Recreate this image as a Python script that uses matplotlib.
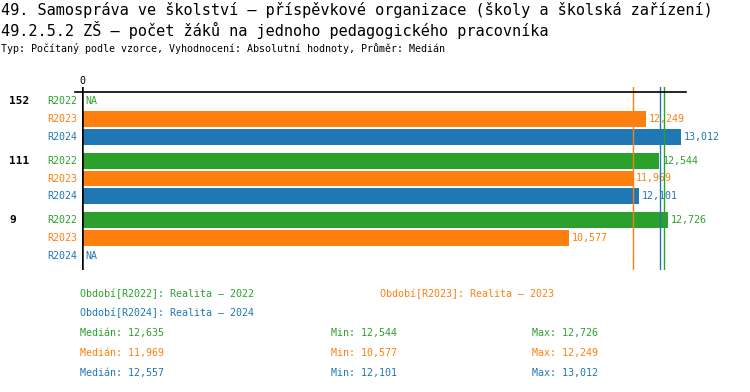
import matplotlib
matplotlib.use("Agg")
import matplotlib.pyplot as plt

plt.rcParams['font.family'] = ['DejaVu Sans Mono']

groups = ["152", "111", "9"]
periods = ["R2022", "R2023", "R2024"]
colors = {"R2022": "#2ca02c", "R2023": "#ff7f0e", "R2024": "#1f77b4"}
values = {
    "R2022": [None, 12.544, 12.726],
    "R2023": [12.249, 11.969, 10.577],
    "R2024": [13.012, 12.101, None],
}
medians = {"R2022": 12.635, "R2023": 11.969, "R2024": 12.557}
mins = {"R2022": 12.544, "R2023": 10.577, "R2024": 12.101}
maxs = {"R2022": 12.726, "R2023": 12.249, "R2024": 13.012}
legend_names = {"R2022": "Realita – 2022", "R2023": "Realita – 2023", "R2024": "Realita – 2024"}

title1 = "49. Samospráva ve školství – příspěvkové organizace (školy a školská zařízení)"
title2 = "49.2.5.2 ZŠ – počet žáků na jednoho pedagogického pracovníka"
subtitle = "Typ: Počítaný podle vzorce, Vyhodnocení: Absolutní hodnoty, Průměr: Medián"

W, H = 750, 392
fig = plt.figure(figsize=(W / 100, H / 100), dpi=100)

def fx(px):
    return px / W

def fy(py):
    return 1 - py / H

def fmt(v):
    return f"{v:.3f}".replace(".", ",")

# axes: x from 82 to 686 px, y from 87 to 270 px
ax = fig.add_axes([fx(82), fy(270), fx(686) - fx(82), (270 - 87) / H])
xmax = 13.12
ax.set_xlim(0, xmax)
gap = 1 / 3
ypos = {}
for gi, g in enumerate(groups):
    for pi, p in enumerate(periods):
        ypos[(gi, pi)] = gi * (3 + gap) + pi
ybottom = 2 * (3 + gap) + 2 + 0.778
ax.set_ylim(ybottom, -0.778)
for s in ax.spines.values():
    s.set_visible(False)
ax.set_xticks([])
ax.set_yticks([])

fs = 7.2
px = 0.72  # points per pixel

for gi, g in enumerate(groups):
    ax.annotate(g, xy=(9, ypos[(gi, 0)]), xycoords=('figure pixels', 'data'),
                ha='left', va='center', fontsize=8, fontweight='bold', color='black')
    for pi, p in enumerate(periods):
        y = ypos[(gi, pi)]
        v = values[p][gi]
        c = colors[p]
        ax.annotate(p, xy=(0, y), xytext=(-5 * px, 0), textcoords='offset points',
                    ha='right', va='center', fontsize=fs, color=c, annotation_clip=False)
        if v is None:
            ax.annotate("NA", xy=(0, y), xytext=(3 * px, 0), textcoords='offset points',
                        ha='left', va='center', fontsize=fs, color=c)
        else:
            ax.barh(y, v, height=0.89, color=c, left=0)
            ax.annotate(fmt(v), xy=(v, y), xytext=(3 * px, 0), textcoords='offset points',
                        ha='left', va='center', fontsize=fs, color=c, annotation_clip=False)

for p in periods:
    ax.axvline(medians[p], color=colors[p], lw=1.0, zorder=3)

ax.axvline(0, color='black', lw=1.8, zorder=4)
ax.axhline(-0.5, xmin=-7 / 604, xmax=1, color='black', lw=1.2, clip_on=False, zorder=4)
ax.annotate("0", xy=(0, 0), xycoords=('data', 'figure pixels'), xytext=(0, H - 81),
            textcoords=('offset points', 'figure pixels'), ha='center', va='center',
            fontsize=fs, color='black', annotation_clip=False)

# titles
fig.text(fx(1), fy(10), title1, fontsize=11, ha='left', va='center', color='black')
fig.text(fx(1), fy(30), title2, fontsize=11, ha='left', va='center', color='black')
fig.text(fx(1), fy(49), subtitle, fontsize=fs, ha='left', va='center', color='black')

# legend
fig.text(fx(80), fy(294), f"Období[R2022]: {legend_names['R2022']}", fontsize=fs,
         color=colors['R2022'], ha='left', va='center')
fig.text(fx(380), fy(294), f"Období[R2023]: {legend_names['R2023']}", fontsize=fs,
         color=colors['R2023'], ha='left', va='center')
fig.text(fx(80), fy(313), f"Období[R2024]: {legend_names['R2024']}", fontsize=fs,
         color=colors['R2024'], ha='left', va='center')

for i, p in enumerate(periods):
    yy = 333 + i * 20
    c = colors[p]
    fig.text(fx(80), fy(yy), f"Medián: {fmt(medians[p])}", fontsize=fs, color=c, ha='left', va='center')
    fig.text(fx(331), fy(yy), f"Min: {fmt(mins[p])}", fontsize=fs, color=c, ha='left', va='center')
    fig.text(fx(532), fy(yy), f"Max: {fmt(maxs[p])}", fontsize=fs, color=c, ha='left', va='center')

fig.savefig("out.png", dpi=100)
